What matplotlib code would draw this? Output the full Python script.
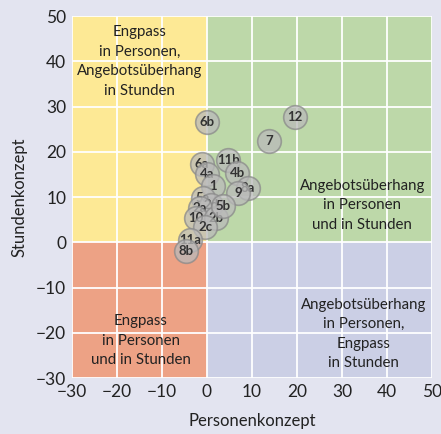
import numpy as np
from matplotlib import pyplot as plt

# point labels and positions (Personenkonzept, Stundenkonzept)
labels = ['6b', '12', '7', '11b', '6a', '4a', '4b', '1', '8a', '9', '5a',
          '2d', '2a', '10', '2b', '5b', '2c', '11a', '8b']
personen = [0.0, 19.6, 13.8, 4.7, -1.1, 0.0, 6.7, 1.3, 9.1, 6.9, -0.9,
            0.9, -1.6, -2.4, 2.0, 3.6, -0.4, -3.8, -4.7]
stunden = [26.6, 27.7, 22.4, 18.2, 17.3, 15.1, 15.3, 12.4, 12.0, 10.9, 9.8,
           8.2, 7.6, 5.4, 5.4, 8.0, 3.4, 0.5, -1.9]

xticks = [-30, -20, -10, 0, 10, 20, 30, 40, 50]
yticks = [-30, -20, -10, 0, 10, 20, 30, 40, 50]

bg = '#e3e4f0'
plt.rcParams['font.family'] = ['Lato', 'DejaVu Sans']
plt.rcParams['axes.unicode_minus'] = True

fig = plt.figure(figsize=(4.41, 4.34), dpi=100, facecolor=bg)
ax = fig.add_axes([0.163, 0.129, 0.817, 0.834])
ax.set_facecolor(bg)

ax.axvspan(-30, 0, ymin=3/8, ymax=1, color='#fde995', lw=0, zorder=0)
ax.axvspan(0, 50, ymin=3/8, ymax=1, color='#bdd8a9', lw=0, zorder=0)
ax.axvspan(-30, 0, ymin=0, ymax=3/8, color='#eda285', lw=0, zorder=0)
ax.axvspan(0, 50, ymin=0, ymax=3/8, color='#cbcfe5', lw=0, zorder=0)

for v in xticks:
    ax.axvline(v, color='white', lw=1.3, zorder=1)
for v in yticks:
    ax.axhline(v, color='white', lw=1.3, zorder=1)

ax.set_xlim(-30, 50)
ax.set_ylim(-30, 50)
ax.set_xticks(xticks)
ax.set_yticks(yticks)
ax.tick_params(length=0, labelsize=12.5, colors='#222222', pad=4)
for s in ax.spines.values():
    s.set_visible(False)

ax.set_xlabel('Personenkonzept', fontsize=12, color='#222222', labelpad=10)
ax.set_ylabel('Stundenkonzept', fontsize=12, color='#222222', labelpad=6)

txt = dict(ha='center', va='center', fontsize=10.8, color='#222222',
           linespacing=1.5, zorder=2)
ax.text(-15, 40, 'Engpass\nin Personen,\nAngebotsüberhang\nin Stunden', **txt)
ax.text(34.5, 8.2, 'Angebotsüberhang\nin Personen\nund in Stunden', **txt)
ax.text(34.7, -20.3, 'Angebotsüberhang\nin Personen,\nEngpass\nin Stunden', **txt)
ax.text(-14.7, -21.8, 'Engpass\nin Personen\nund in Stunden', **txt)

for i in range(len(labels)):
    ax.scatter(personen[i], stunden[i], s=290, facecolor='#bababa',
               edgecolor='#8a8a8a', linewidth=1.2, alpha=0.75, zorder=3 + i)
    ax.text(personen[i], stunden[i], labels[i], ha='center', va='center',
            fontsize=9.5, fontweight='bold', color='#333333', zorder=3 + i)

fig.savefig('out.png', dpi=100, facecolor=bg)
